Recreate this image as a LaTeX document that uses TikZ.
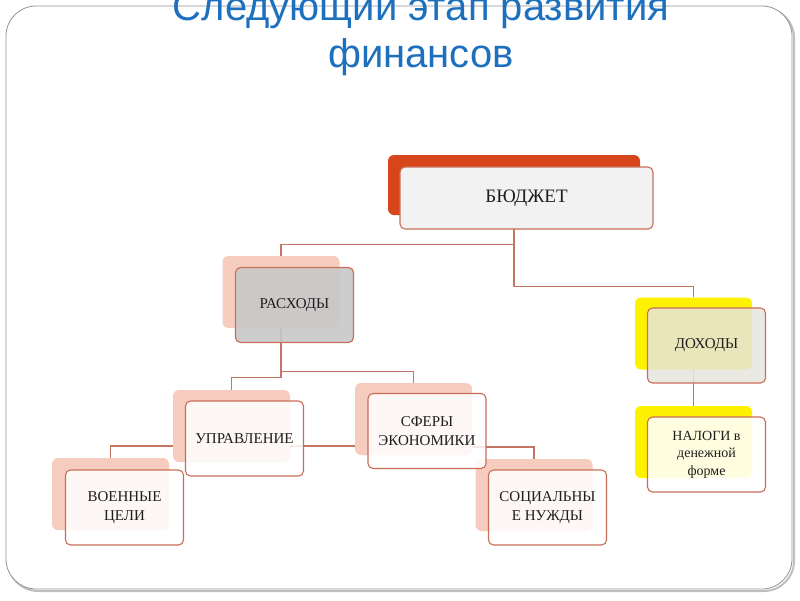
\documentclass[tikz,border=0pt]{standalone}
\usepackage{fontspec}
\setmainfont{Liberation Serif}
\newfontfamily\titlefont{Liberation Sans}
\usetikzlibrary{positioning, calc}
\definecolor{salmon}{RGB}{246,204,190}
\definecolor{edge}{RGB}{200,110,88}
\definecolor{wire}{RGB}{196,118,100}
\definecolor{rust}{RGB}{214,70,26}
\definecolor{titleblue}{RGB}{28,112,190}
\definecolor{ink}{RGB}{30,30,30}
\definecolor{boxgray}{RGB}{200,200,200}
\definecolor{paleash}{RGB}{230,228,222}
\definecolor{lightash}{RGB}{242,242,242}

\begin{document}
\begin{tikzpicture}[x=1pt, y=-1pt,
    back/.style={rectangle, rounded corners=6pt, fill=salmon, minimum width=117pt, minimum height=72pt, inner sep=0pt},
    front/.style={rectangle, rounded corners=5pt, draw=edge, line width=1.1pt, fill=white, fill opacity=0.85, text opacity=1, text=ink, minimum width=118pt, minimum height=75pt, inner sep=2pt, align=center, font=\fontsize{15}{19}\selectfont},
    link/.style={draw=wire, line width=1.1pt},
    heading/.style={anchor=base, text=titleblue, font=\titlefont\fontsize{40}{47}\selectfont}
]
    \useasboundingbox (0,0) rectangle (800,600);
    \draw[gray!50, line width=2pt, rounded corners=30pt] (8,8) rectangle (794,591);
    \draw[gray!85, line width=0.8pt, fill=white, rounded corners=30pt] (6,6) rectangle (792,589);

    \node[heading] (T1) at (421,20) {Следующий этап развития};
    \node[heading] (T2) at (421,67) {финансов};

    \node[back, fill=rust, minimum width=252pt, minimum height=60pt] (B0) at (514,185) {};
    \node[back] (R0) at (281,292) {};
    \node[back] (U0) at (231.5,426) {};
    \node[back] (S0) at (413.5,419) {};
    \node[back] (V0) at (110.5,494) {};
    \node[back] (C0) at (534,495) {};
    \node[back, fill=yellow] (D0) at (693.5,333.5) {};
    \node[back, fill=yellow] (N0) at (693.5,442) {};

    \path[link]
    (B0.south) -- ++(0,29) -| (R0.north)
    (B0.south) -- ++(0,71) -| (D0.north)
    (R0.south) -- ++(0,49) -| (U0.north)
    (R0.south) -- ++(0,43) -| (S0.north)
    ([yshift=-20pt]U0.west) -| (V0.north)
    ([yshift=-20pt]U0.east) -- ([yshift=-27pt]S0.west)
    ([yshift=-28pt]S0.east) -| (C0.north)
    (D0.south) -- (N0.north)
    ;

    \node[front, fill=lightash, fill opacity=1, minimum width=253pt, minimum height=62pt, font=\fontsize{19}{22}\selectfont] (B) at ([shift={(12.5,13)}]B0) {БЮДЖЕТ};
    \node[front, fill=boxgray, fill opacity=0.9] (R) at ([shift={(13.5,13)}]R0) {РАСХОДЫ};
    \node[front] (U) at ([shift={(13,12.5)}]U0) {УПРАВЛЕНИЕ};
    \node[front] (S) at ([shift={(13.5,12)}]S0) {СФЕРЫ\\ЭКОНОМИКИ};
    \node[front] (V) at ([shift={(14,13.5)}]V0) {ВОЕННЫЕ\\ЦЕЛИ};
    \node[front] (C) at ([shift={(13.5,12.5)}]C0) {СОЦИАЛЬНЫ\\Е НУЖДЫ};
    \node[front, fill=paleash] (D) at ([shift={(13,12)}]D0) {ДОХОДЫ};
    \node[front, fill opacity=0.88, font=\fontsize{14}{17.5}\selectfont] (N) at ([shift={(13,12.5)}]N0) {НАЛОГИ в\\денежной\\форме};
\end{tikzpicture}
\end{document}
